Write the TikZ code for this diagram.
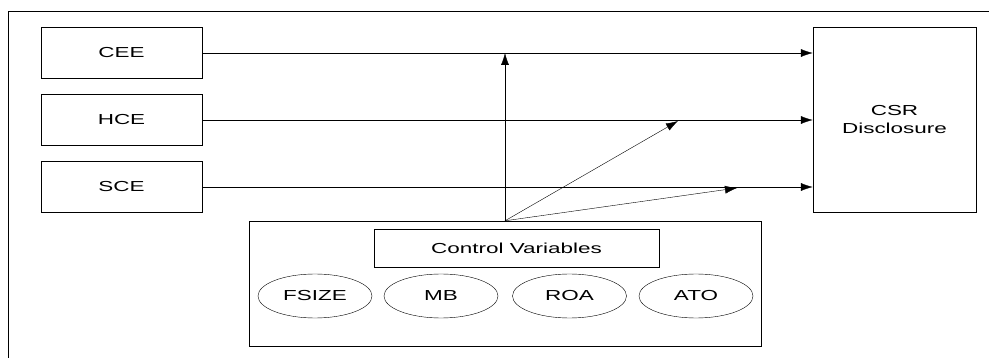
\documentclass[tikz,border=0pt]{standalone}
\usepackage{fontspec}
\setmainfont[FakeStretch=1.55]{Liberation Sans}
\usetikzlibrary{
  arrows.meta,
  calc,
  positioning,
  shapes.geometric,
}
\tikzset{
  >={Latex[length=12pt,width=8pt]},
  line width=1.5pt,
  varbox/.style={draw, rectangle, minimum width=161pt, minimum height=51pt,
    inner sep=0pt, font=\fontsize{14.5}{17}\selectfont},
  ctrlvar/.style={draw, ellipse, minimum width=114pt, minimum height=44pt,
    inner sep=0pt, font=\fontsize{14.5}{17}\selectfont},
}

\begin{document}
\begin{tikzpicture}[x=1pt, y=-1pt]
      \useasboundingbox (0,0) rectangle (989,358);
      \clip (0,0) rectangle (989,358);
      \draw (8,11) rectangle (1100,420);

      % independent variables
      \foreach \nm/\y in {CEE/53, HCE/120, SCE/187}
      {
        \node[varbox] (\nm) at (121.5,\y) {\nm};
      }
      \node[varbox, minimum width=163pt, minimum height=185pt, align=center]
        (csr) at (894.5,119.5) {CSR\\[1pt]Disclosure};

      % control variables
      \node[draw, minimum width=512pt, minimum height=125pt] (ctrl) at (505,283.5) {};
      \node[draw, minimum width=285pt, minimum height=38pt, inner sep=0pt,
        font=\fontsize{14.5}{17}\selectfont] (cvtitle) at (516.5,248) {Control Variables};
      \foreach \nm/\x in {FSIZE/315, MB/441, ROA/569.5, ATO/696}
      {
        \node[ctrlvar] (\nm) at (\x,296) {\nm};
      }

      \foreach \nm in {CEE, HCE, SCE}
      {
        \draw[->] (\nm.east) -- (\nm.east -| csr.west);
      }

      \coordinate (tipH) at (678,121);
      \coordinate (tipS) at (737,188);
      \draw[->] (ctrl.north) -- (ctrl.north |- CEE.east);
      \draw[->] (ctrl.north) -- (tipH);
      \draw[->] (ctrl.north) -- (tipS);
    \end{tikzpicture}
\end{document}
